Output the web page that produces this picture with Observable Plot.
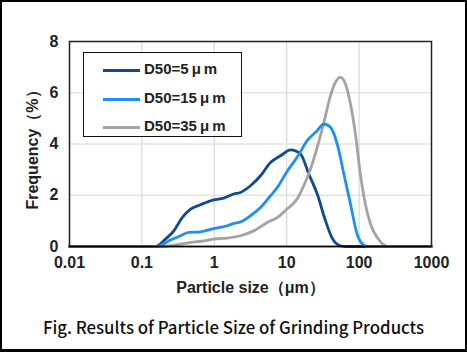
<!DOCTYPE html>
<html><head><meta charset="utf-8">
<script src="https://cdn.jsdelivr.net/npm/d3@7"></script>
<script src="https://cdn.jsdelivr.net/npm/@observablehq/plot@0.6"></script>
<style>
body{margin:0;background:#fff;}
#wrap{position:relative;width:467px;height:352px;box-sizing:border-box;border:2px solid #000;border-bottom-width:3px;background:#fff;overflow:hidden;}
#chart svg{display:block;}
#legend{position:absolute;left:81px;top:50px;width:159px;height:85px;box-sizing:border-box;border:1.5px solid #111;background:#fff;font-family:"Liberation Sans",Arial,sans-serif;font-weight:bold;font-size:15px;color:#222;}
.row{position:absolute;left:0;height:20px;}
.sw{position:absolute;left:19px;top:9px;width:37px;height:3px;}
.lt{position:absolute;left:60px;top:0px;white-space:nowrap;}
.mu{margin:0 3px 0 3px;}
#caption{position:absolute;left:0;width:463px;top:313px;text-align:center;font-family:"Noto Sans CJK JP","Noto Sans",sans-serif;font-size:16.8px;font-weight:500;color:#111;}
</style>
</head><body>
<div id="wrap"><div id="chart"></div><div id="legend"></div><div id="caption"></div></div>
<script>
// Data
const seriesNames = ["D50=5μm", "D50=15μm", "D50=35μm"];
const seriesColors = ["#0d4a90", "#1e90f5", "#a3a3a3"];

const d5Size = [0.01, 0.154, 0.212, 0.276, 0.36, 0.47, 0.645, 0.98, 1.35, 1.86, 2.3, 3.16, 4.35, 5.97, 8.2, 11.3, 15.5, 20.2, 26.4, 34.4, 42.1, 55, 65, 1000];
const d5Freq = [0, 0, 0.29, 0.61, 1.13, 1.46, 1.63, 1.82, 1.89, 2.05, 2.11, 2.37, 2.76, 3.28, 3.54, 3.77, 3.61, 2.83, 2.05, 1.0, 0.35, 0.03, 0, 0];

const d15Size = [0.01, 0.16, 0.248, 0.34, 0.445, 0.645, 0.98, 1.51, 1.86, 2.3, 3.16, 4.35, 5.97, 7.4, 10.1, 13.9, 19.2, 26.4, 32.6, 40.3, 49.8, 61.6, 76, 94, 116, 130, 1000];
const d15Freq = [0, 0, 0.25, 0.42, 0.55, 0.57, 0.70, 0.81, 0.90, 0.96, 1.20, 1.52, 1.98, 2.30, 2.93, 3.48, 4.13, 4.52, 4.78, 4.65, 4.0, 2.83, 1.66, 0.48, 0.05, 0, 0];

const d35Size = [0.01, 0.2, 0.34, 0.47, 0.72, 0.98, 1.51, 2.3, 3.5, 5.4, 7.4, 10.1, 13.9, 17.2, 21.3, 26.4, 32.6, 40.3, 47.2, 55.3, 64.9, 76, 89, 104, 122, 144, 178, 232, 260, 1000];
const d35Freq = [0, 0, 0.09, 0.16, 0.22, 0.29, 0.33, 0.42, 0.61, 0.94, 1.13, 1.46, 1.85, 2.37, 3.02, 3.87, 4.84, 5.89, 6.41, 6.6, 6.34, 5.56, 4.39, 2.83, 1.66, 0.87, 0.35, 0.03, 0, 0];

const xTicks = [0.01, 0.1, 1, 10, 100, 1000];
const xTickLabels = ["0.01", "0.1", "1", "10", "100", "1000"];
const yTicks = [0, 2, 4, 6, 8];
const xTitle = "Particle size（μm）";
const yTitle = "Frequency（%）";
const captionText = "Fig. Results of Particle Size of Grinding Products";

const sizes = [d5Size, d15Size, d35Size];
const freqs = [d5Freq, d15Freq, d35Freq];
const rows = [];
seriesNames.forEach((s, i) => sizes[i].forEach((x, j) => rows.push({series: s, size: x, freq: freqs[i][j]})));
const drawOrder = [0, 2, 1];

const font = '"Liberation Sans", Arial, sans-serif';
const chart = Plot.plot({
  width: 463, height: 310,
  marginLeft: 67, marginRight: 34, marginTop: 39, marginBottom: 66,
  style: {fontFamily: font, fontSize: "16px", fontWeight: "bold", color: "#222", background: "#fff"},
  x: {type: "log", domain: [0.01, 1000], ticks: xTicks, tickFormat: (d) => xTickLabels[xTicks.indexOf(d)], label: null, tickSize: 0, tickPadding: 10},
  y: {domain: [0, 8], ticks: yTicks, label: null, tickSize: 0, tickPadding: 11},
  color: {domain: seriesNames, range: seriesColors},
  marks: [
    Plot.gridX(xTicks, {stroke: "#d9d9d9", strokeOpacity: 1, strokeWidth: 1.2}),
    Plot.gridY(yTicks, {stroke: "#d9d9d9", strokeOpacity: 1, strokeWidth: 1.2}),
    ...drawOrder.map(i => Plot.line(rows.filter(r => r.series === seriesNames[i]), {x: "size", y: "freq", stroke: "series", strokeWidth: 2.8, curve: "monotone-x"})),
    Plot.frame({stroke: "#222", strokeWidth: 1.5}),
    Plot.ruleY([0], {stroke: "#000", strokeWidth: 1.5}),
    Plot.text([yTitle], {frameAnchor: "left", dx: -37, dy: 2, rotate: -90, textAnchor: "middle", text: d => d, fontSize: 16, fontWeight: "bold", fill: "#222"}),
    Plot.text([xTitle], {frameAnchor: "bottom", dy: 46, textAnchor: "middle", text: d => d, fontSize: 16, fontWeight: "bold", fill: "#222"})
  ]
});
document.getElementById("chart").appendChild(chart);

const legend = document.getElementById("legend");
seriesNames.forEach((s, i) => {
  const row = document.createElement("div");
  row.className = "row";
  row.style.top = (7 + i * 28.5) + "px";
  row.style.width = "100%";
  const label = s.replace("μ", '<span class="mu">μ</span>');
  row.innerHTML = `<div class="sw" style="background:${seriesColors[i]}"></div><div class="lt">${label}</div>`;
  legend.appendChild(row);
});
document.getElementById("caption").textContent = captionText;
</script>
</body></html>
